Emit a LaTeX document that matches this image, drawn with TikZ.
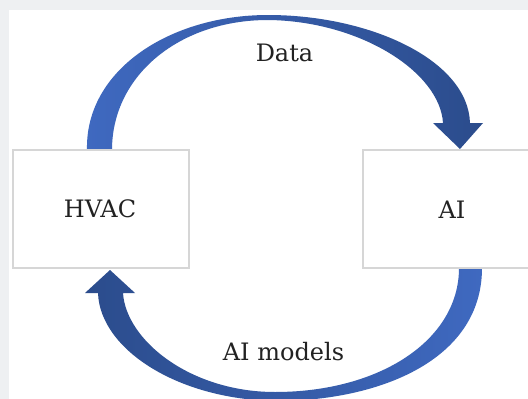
\documentclass[tikz,border=0pt]{standalone}
\usepackage{fontspec}
\setmainfont{DejaVu Serif}
\definecolor{pageground}{HTML}{EEF0F2}
\definecolor{arrowlight}{HTML}{3F69C0}
\definecolor{arrowdark}{HTML}{2B4C8C}
\definecolor{boxline}{HTML}{D6D6D6}
\definecolor{labeltext}{HTML}{222222}
\begin{document}
\begin{tikzpicture}[x=1pt,y=-1pt,
  every node/.style={inner sep=0pt, text=labeltext},
  caption/.style={font=\fontsize{24}{29}\selectfont, anchor=base},
  unitbox/.style={draw=boxline, line width=1.2pt, fill=white, minimum width=176pt, minimum height=118pt},
  flowarrow/.style={draw=none}]
  % page ground and frame
  \fill[pageground] (0,0) rectangle (528,399);
  \fill[white] (9,10) rectangle (528,399);
  \useasboundingbox (0,0) rectangle (528,399);

  \begin{scope}
    \clip (9,10) rectangle (528,399);
    % upper curved arrow: HVAC -> AI
    \shade[flowarrow, left color=arrowlight, right color=arrowdark]
      (87,150) .. controls (85,70) and (170,15) .. (268,15)
      .. controls (370,15) and (468,60) .. (470,123)
      -- (483,123) -- (460,149) -- (433,123) -- (443,123)
      .. controls (440,72) and (360,21) .. (268,20)
      .. controls (180,20) and (112,75) .. (112,150) -- cycle;
    % lower curved arrow: AI -> HVAC
    \shade[flowarrow, right color=arrowlight, left color=arrowdark]
      (482,268) .. controls (482,360) and (380,400) .. (280,401)
      .. controls (180,401) and (100,350) .. (98,293)
      -- (85,293) -- (110,270) -- (135,293) -- (123,293)
      .. controls (126,340) and (190,392) .. (275,392)
      .. controls (380,392) and (459,340) .. (459,268) -- cycle;

    % the two units
    \node[unitbox] (hvac) at (101,209) {};
    \node[unitbox] (ai) at (451,209) {};
  \end{scope}

  % labels
  \node[caption] (hvaclabel) at (100,217) {HVAC};
  \node[caption] (ailabel) at (452,218) {AI};
  \node[caption] (datalabel) at (284.5,61.5) {Data};
  \node[caption] (modelslabel) at (283.5,360) {AI models};
\end{tikzpicture}
\end{document}
